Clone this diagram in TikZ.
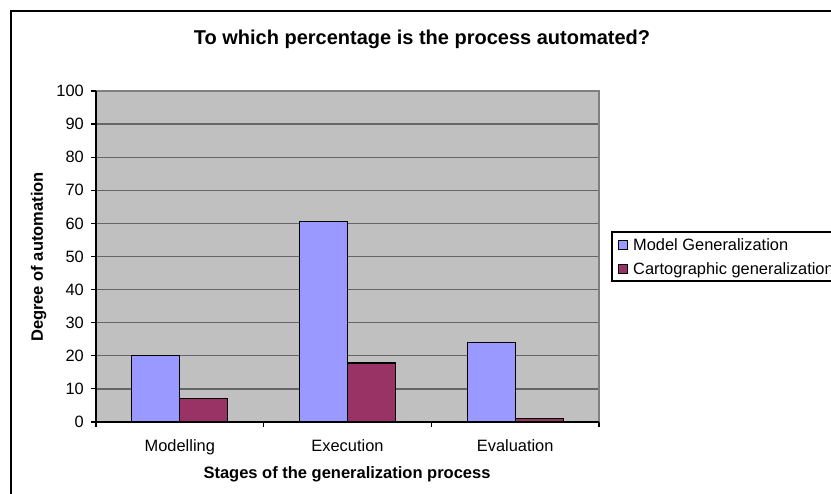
\documentclass[tikz,border=0pt]{standalone}
\usepackage{fontspec}
\setmainfont{Liberation Sans}
\usetikzlibrary{positioning}

\definecolor{modelblue}{HTML}{9999FF}
\definecolor{cartoplum}{HTML}{993366}
\definecolor{plotgray}{HTML}{C0C0C0}
\definecolor{gridgray}{HTML}{666666}
\definecolor{framegray}{HTML}{808080}

\begin{document}
\begin{tikzpicture}[
        x=1pt, y=1pt,
        charttitle/.style={font=\fontsize{20}{24}\selectfont\bfseries, inner sep=0pt},
        axistitle/.style={font=\fontsize{16.5}{20}\selectfont\bfseries, inner sep=0pt},
        ticklabel/.style={font=\fontsize{16.4}{20}\selectfont, inner sep=0pt},
        legendtext/.style={font=\fontsize{16.4}{20}\selectfont, inner sep=0pt, anchor=base west},
        legendkey/.style={rectangle, draw=black, line width=1pt, minimum size=9pt, inner sep=0pt},
        modelbar/.style={draw=black, fill=modelblue, line width=1.2pt},
        cartobar/.style={draw=black, fill=cartoplum, line width=1.2pt},
        gridline/.style={draw=gridgray, line width=1.3pt},
        axisline/.style={draw=black, line width=1.2pt},
    ]
        \useasboundingbox (0,0) rectangle (831,494);
        \clip (0,0) rectangle (831,494);

        % outer chart frame (runs off the page at right and bottom)
        \draw[black, line width=1.2pt] (11,-10) -- (11,483) -- (845,483);

        \node[charttitle, anchor=base] (title) at (422,449) {To which percentage is the process automated?};
        \node[axistitle, anchor=base, rotate=90] (ytitle) at (43,237) {Degree of automation};
        \node[axistitle, anchor=base] (xtitle) at (347,15) {Stages of the generalization process};

        \begin{scope}[shift={(96,72)}, y=3.31pt]
            % plot area and grid
            \fill[plotgray] (0,0) rectangle (503,100);
            \draw[gridline] (0,10) -- (503,10);
            \draw[gridline] (0,20) -- (503,20);
            \draw[gridline] (0,30) -- (503,30);
            \draw[gridline] (0,40) -- (503,40);
            \draw[gridline] (0,50) -- (503,50);
            \draw[gridline] (0,60) -- (503,60);
            \draw[gridline] (0,70) -- (503,70);
            \draw[gridline] (0,80) -- (503,80);
            \draw[gridline] (0,90) -- (503,90);
            \draw[draw=framegray, line width=1.5pt] (0,100) -- (503,100) -- (503,0);

            % bars
            \draw[modelbar] (35.8,0) rectangle (83.8,20);
            \draw[cartobar] (83.8,0) rectangle (131.8,7.2);
            \draw[modelbar] (203.5,0) rectangle (251.5,60.5);
            \draw[cartobar] (251.5,0) rectangle (299.5,17.8);
            \draw[modelbar] (371.2,0) rectangle (419.2,24.1);
            \draw[cartobar] (419.2,0) rectangle (467.2,1);

            % axes and ticks
            \draw[axisline] (0,100) -- (0,0) -- (503,0);
            \draw[axisline] (-5,0) -- (0,0);
            \draw[axisline] (-5,10) -- (0,10);
            \draw[axisline] (-5,20) -- (0,20);
            \draw[axisline] (-5,30) -- (0,30);
            \draw[axisline] (-5,40) -- (0,40);
            \draw[axisline] (-5,50) -- (0,50);
            \draw[axisline] (-5,60) -- (0,60);
            \draw[axisline] (-5,70) -- (0,70);
            \draw[axisline] (-5,80) -- (0,80);
            \draw[axisline] (-5,90) -- (0,90);
            \draw[axisline] (-5,100) -- (0,100);
            \draw[axisline] (0,0) -- ++(0,-5pt);
            \draw[axisline] (167.7,0) -- ++(0,-5pt);
            \draw[axisline] (335.3,0) -- ++(0,-5pt);
            \draw[axisline] (503,0) -- ++(0,-5pt);

            \node[ticklabel, anchor=east] (tick0) at (-12,0) {0};
            \node[ticklabel, anchor=east] (tick10) at (-12,10) {10};
            \node[ticklabel, anchor=east] (tick20) at (-12,20) {20};
            \node[ticklabel, anchor=east] (tick30) at (-12,30) {30};
            \node[ticklabel, anchor=east] (tick40) at (-12,40) {40};
            \node[ticklabel, anchor=east] (tick50) at (-12,50) {50};
            \node[ticklabel, anchor=east] (tick60) at (-12,60) {60};
            \node[ticklabel, anchor=east] (tick70) at (-12,70) {70};
            \node[ticklabel, anchor=east] (tick80) at (-12,80) {80};
            \node[ticklabel, anchor=east] (tick90) at (-12,90) {90};
            \node[ticklabel, anchor=east] (tick100) at (-12,100) {100};

            \node[ticklabel, anchor=base] (modelling) at ([yshift=-30pt]83.8,0) {Modelling};
            \node[ticklabel, anchor=base] (execution) at ([yshift=-30pt]251.5,0) {Execution};
            \node[ticklabel, anchor=base] (evaluation) at ([yshift=-30pt]419.2,0) {Evaluation};
        \end{scope}

        % legend (cut off at the right edge)
        \draw[black, line width=1.2pt] (612,213) rectangle (860,262);
        \node[legendkey, fill=modelblue] (keymodel) at (622.5,249) {};
        \node[legendkey, fill=cartoplum] (keycarto) at (622.5,224.5) {};
        \node[legendtext] (txtmodel) at (633,243.5) {Model Generalization};
        \node[legendtext] (txtcarto) at (633,219) {Cartographic generalization};
    \end{tikzpicture}
\end{document}
